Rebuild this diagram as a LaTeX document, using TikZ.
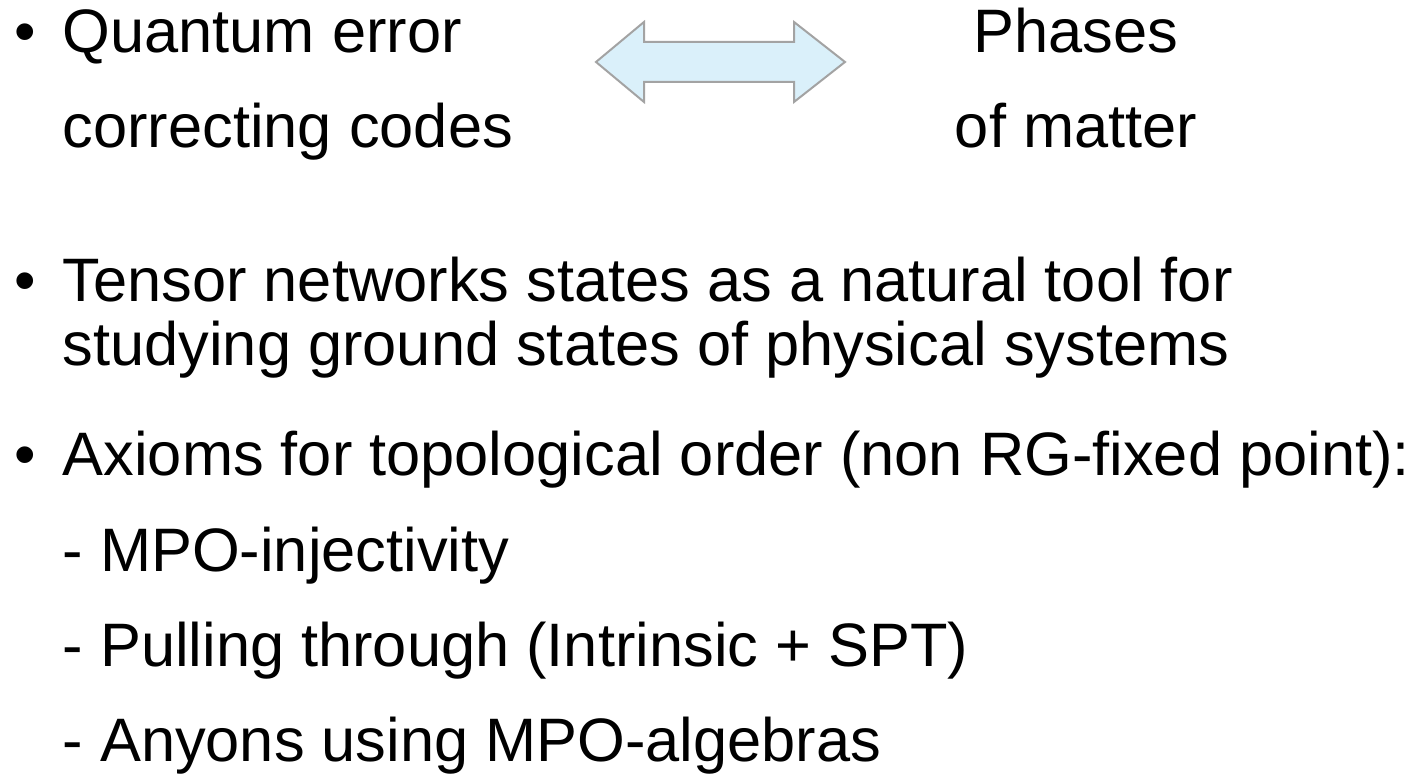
\documentclass[tikz,border=0pt]{standalone}
\usepackage{fontspec}
\setmainfont{Liberation Sans}

\definecolor{arrowblue}{HTML}{DAF0FA}
\definecolor{arrowgray}{HTML}{A3A3A3}

\begin{document}
\begin{tikzpicture}[x=0.01cm, y=-0.01cm,
    every node/.style={inner sep=0pt, anchor=base west, font=\fontsize{17.45pt}{21pt}\selectfont},
    linkarrow/.style={fill=arrowblue, draw=arrowgray, line width=0.02cm, line join=miter}]
  \useasboundingbox (0,0) rectangle (1417,774);

  % Codes <-> phases
  \node (b1) at (14,53) {•};
  \node (qec1) at (62,53) {Quantum error};
  \node (qec2) at (62,148) {correcting codes};
  \node[anchor=base] (ph1) at (1076,53) {Phases};
  \node[anchor=base] (ph2) at (1076,148) {of matter};
  \coordinate (link) at (720,62);
  \filldraw[linkarrow] (link) ++(-124,0) -- ++(48,-40) -- ++(0,20) -- ++(150,0)
    -- ++(0,-20) -- ++(51,40) -- ++(-51,40) -- ++(0,-20) -- ++(-150,0) -- ++(0,20) -- cycle;

  % Tensor networks
  \node (b2) at (14,302) {•};
  \node (tn1) at (62,302) {Tensor networks states as a natural tool for};
  \node (tn2) at (62,366) {studying ground states of physical systems};

  % Axioms
  \node (b3) at (14,476) {•};
  \node (ax) at (62,476) {Axioms for topological order (non RG-fixed point):};
  \node (ax1) at (62,572) {- MPO-injectivity};
  \node (ax2) at (62,667) {- Pulling through (Intrinsic + SPT)};
  \node (ax3) at (62,762) {- Anyons using MPO-algebras};
\end{tikzpicture}
\end{document}
